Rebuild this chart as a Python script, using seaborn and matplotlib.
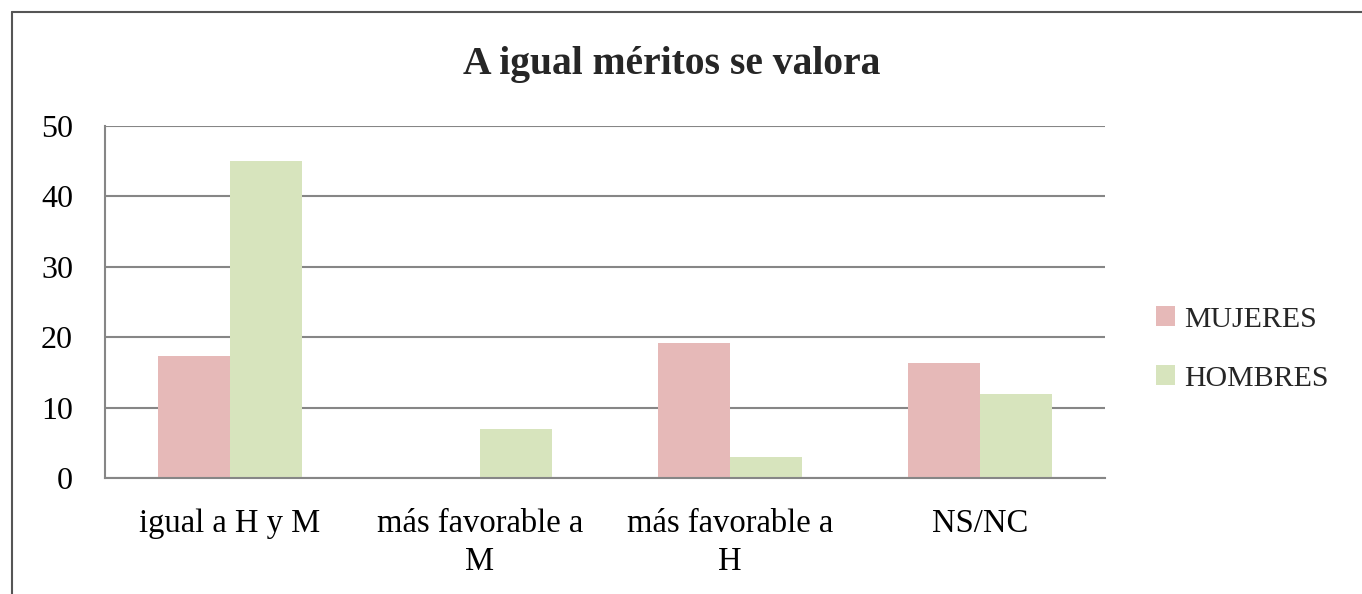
import matplotlib
matplotlib.use("Agg")
import matplotlib.pyplot as plt
import seaborn as sns
import pandas as pd
from matplotlib.patches import Patch
from matplotlib.lines import Line2D

categories = ["igual a H y M", "más favorable a\nM", "más favorable a\nH", "NS/NC"]
series_names = ["MUJERES", "HOMBRES"]
mujeres = [17.3, 0.0, 19.2, 16.4]
hombres = [45.0, 7.0, 3.0, 12.0]
yticks = [0, 10, 20, 30, 40, 50]
title = "A igual méritos se valora"
colors = ["#E6B9B8", "#D7E4BD"]

df = pd.DataFrame({
    "cat": categories * 2,
    "serie": [series_names[0]] * 4 + [series_names[1]] * 4,
    "val": mujeres + hombres,
})

sns.set_theme(style="white")
plt.rcParams["font.family"] = ["Liberation Serif", "DejaVu Serif"]

W, H = 1362, 594
fig = plt.figure(figsize=(W / 100, H / 100), dpi=100)
ax = fig.add_axes([105 / W, 1 - 478 / H, 1000 / W, 352 / H])

sns.barplot(data=df, x="cat", y="val", hue="serie", order=categories,
            hue_order=series_names, palette=colors, width=0.576, gap=0,
            saturation=1, ax=ax, legend=False, errorbar=None,
            linewidth=0, edgecolor="none")

ax.set_ylim(0, 50)
ax.set_xlim(-0.5, 3.5)
ax.set_yticks(yticks)
ax.set_yticklabels([str(v) for v in yticks], fontsize=23)
ax.set_xticklabels(categories, fontsize=23.5, linespacing=1.3)
ax.set_xlabel("")
ax.set_ylabel("")
ax.yaxis.grid(True, color="#868686", linewidth=1.5)
ax.set_axisbelow(True)
for s in ["top", "right"]:
    ax.spines[s].set_visible(False)
for s in ["left", "bottom"]:
    ax.spines[s].set_color("#868686")
    ax.spines[s].set_linewidth(1.5)
ax.tick_params(axis="both", length=0, colors="#000000")
ax.tick_params(axis="x", pad=22)
ax.tick_params(axis="y", pad=23)

fig.text(672 / W, 1 - 74 / H, title, ha="center", va="baseline",
         fontsize=28.5, fontweight="bold")

handles = [Patch(facecolor=c, edgecolor="none") for c in colors]
fig.legend(handles, series_names, loc="center left",
           bbox_to_anchor=(1156 / W, 1 - 349 / H), frameon=False,
           fontsize=21.5, handlelength=0.64, handleheight=0.64,
           handletextpad=0.3, labelspacing=1.1, borderpad=0,
           borderaxespad=0)

fig.add_artist(Line2D([12 / W, 1], [1 - 12 / H, 1 - 12 / H], transform=fig.transFigure,
                      color="#555555", linewidth=1.5))
fig.add_artist(Line2D([12 / W, 12 / W], [0, 1 - 12 / H], transform=fig.transFigure,
                      color="#555555", linewidth=1.5))

fig.savefig("out.png", dpi=100)
